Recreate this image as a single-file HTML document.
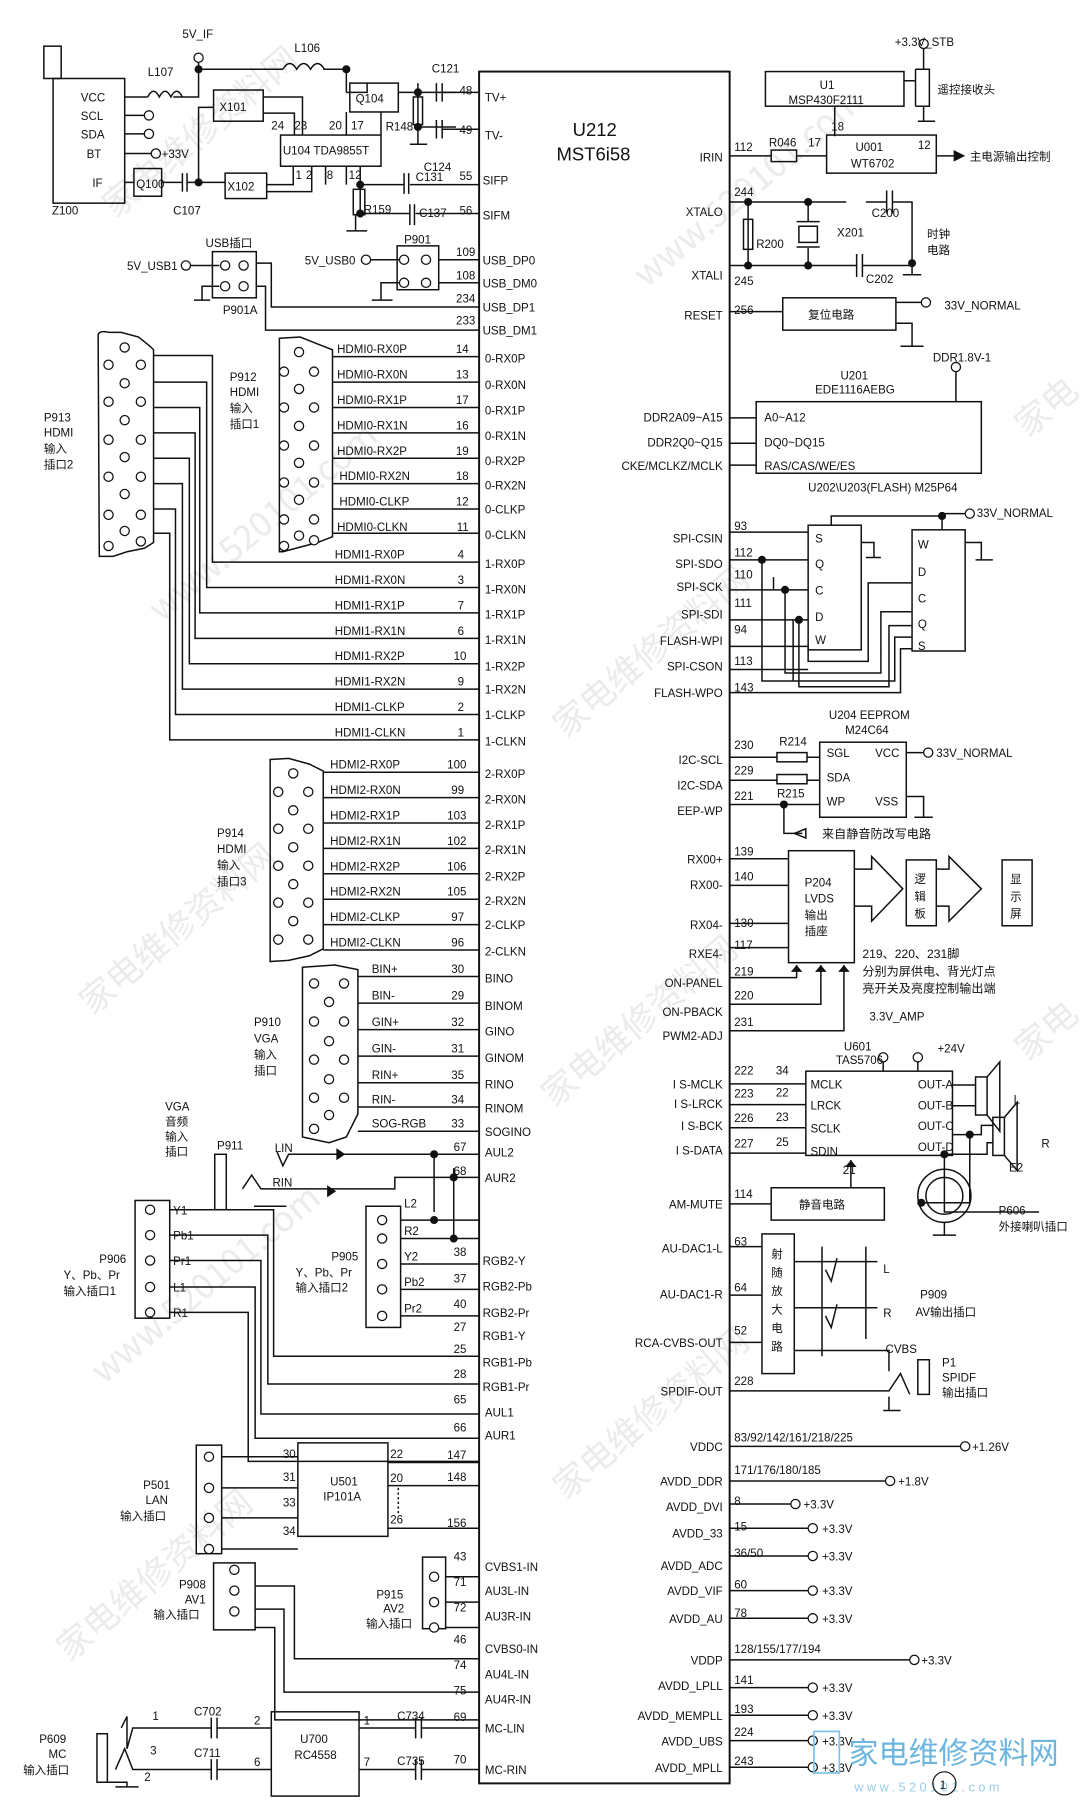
<!DOCTYPE html>
<html><head><meta charset="utf-8"><style>
html,body{margin:0;padding:0;background:#fff}
svg{display:block}
text{font-family:"Liberation Sans Narrow","Liberation Sans","Noto Sans CJK SC",sans-serif;font-size:10px;fill:#111}
.c{font-family:"Liberation Sans","Noto Sans CJK SC",sans-serif;font-size:10.5px}
.r{text-anchor:end}
.m{text-anchor:middle}
.wm{font-family:"Noto Sans CJK SC","Liberation Sans",sans-serif;font-size:30px;fill:#e6e6e6}
</style></head><body>
<svg width="1091" height="1818" viewBox="0 0 945 1575" preserveAspectRatio="none" xmlns="http://www.w3.org/2000/svg">
<g opacity="0.8">
<text class="wm" transform="translate(100,190) rotate(-40)">家电维修资料网</text>
<text class="wm" transform="translate(560,250) rotate(-40)">www.520101.com</text>
<text class="wm" transform="translate(140,540) rotate(-40)">www.520101.com</text>
<text class="wm" transform="translate(490,640) rotate(-40)">家电维修资料网</text>
<text class="wm" transform="translate(80,880) rotate(-40)">家电维修资料网</text>
<text class="wm" transform="translate(480,960) rotate(-40)">家电维修资料网</text>
<text class="wm" transform="translate(90,1200) rotate(-40)">www.520101.com</text>
<text class="wm" transform="translate(490,1300) rotate(-40)">家电维修资料网</text>
<text class="wm" transform="translate(60,1440) rotate(-40)">家电维修资料网</text>
<text class="wm" transform="translate(890,380) rotate(-40)">家电</text>
<text class="wm" transform="translate(890,920) rotate(-40)">家电</text>
</g>
<g fill="none" stroke="#111" stroke-width="1.3">
<rect x="415" y="62" width="217" height="1483" stroke-width="1.7"/>
<rect x="38" y="40" width="15" height="28"/>
<rect x="46" y="68" width="62" height="108"/>
<path d="M108,84 H128 M150,84 H172 V60 M172,60 V50"/>
<path d="M128,84 q5,-10 10,0 q5,-10 10,0 q5,-10 10,0" />
<path d="M172,60 H245 M280,60 H300 V80"/>
<path d="M245,60 q6,-10 12,0 q6,-10 12,0 q6,-10 12,0"/>
<path d="M108,100 H125 M108,116 H125 M108,133 H133 M108,158 H116"/>
<rect x="116" y="146" width="24" height="24"/><rect x="195" y="150" width="36" height="22"/><rect x="185" y="78" width="43" height="27"/>
<path d="M140,158 H158 M162,158 H195 M158,150 V166 M162,150 V166 M172,158 V93 H185"/>
<rect x="243" y="117" width="87" height="27"/>
<rect x="303" y="72" width="42" height="25"/>
<path d="M228,84 H262 V117 M228,98 H255 V117 M300,80 H318 V72 M300,97 V117 M330,97 V117 M345,80 H362 M362,72 V110 M362,80 H395 M362,110 H395 M231,160 H254 V144 M231,166 H270 V144 M282,144 V160 M300,144 V160 M312,144 V160 H350 M312,160 V185 H355 M355,160 H415 M360,185 H415"/>
<rect x="358" y="84" width="8" height="24"/>
<rect x="306" y="164" width="10" height="22"/>
<path d="M378,72 V88 M383,72 V88 M378,104 V120 M383,104 V120 M350,150 V168 M354,150 V168 M355,177 V195 M359,177 V195 M308,186 V200 M300,200 H318 M362,110 V125 M355,125 H370"/>
<path d="M383,80 H415 M383,112 H415"/>
<rect x="184" y="218" width="38" height="40"/>
<path d="M165,230 H190 M222,228 H235 V266 H415 M222,248 H230 V286 H415 M190,248 H175 V260 M168,260 H182"/>
<rect x="344" y="213" width="36" height="38"/>
<path d="M320,225 H350 M380,225 H415 M380,245 H415 M350,245 H330 V260 M322,260 H340"/>
<path d="M85,290 Q86,286 95,288 L105,288 L120,292 L130,300 L133,303 V470 L125,475 L110,478 L98,482 L86,482 Z"/>
<path d="M242,293 L260,292 L275,298 L288,303 V465 L275,470 L260,474 L245,478 L242,478 Z"/>
<path d="M288,309 H415 M288,331 H415 M288,353 H415 M288,375 H415 M288,397 H415 M288,419 H415 M288,441 H415 M288,462 H415"/>
<path d="M133,308 H184 V487 H415 M133,331 H179 V509 H415 M133,353 H173 V531 H415 M133,375 H169 V553 H415 M133,397 H164 V575 H415 M133,419 H158 V597 H415 M133,441 H152 V619 H415 M133,462 H147 V641 H415"/>
<path d="M234,658 L250,657 L268,662 L280,668 V822 L268,828 L250,832 L234,833 Z"/>
<path d="M280,669 H415 M280,691 H415 M280,713 H415 M280,735 H415 M280,757 H415 M280,779 H415 M280,801 H415 M280,823 H415"/>
<path d="M262,838 L290,836 L310,840 V965 L300,985 L285,990 L262,985 Z"/>
<path d="M310,846 H415 M310,869 H415 M310,892 H415 M310,915 H415 M310,938 H415 M310,959 H415 M310,980 H415"/>
<rect x="186" y="1000" width="10" height="48"/>
<path d="M196,1048 H205 M205,1048 H235 M220,1045 H248 M240,998 L245,1010 L250,1000 H415 M210,1030 L218,1018 L226,1030 H342 V1020 H415 M376,1000 V1050 M393,1012 V1073"/>
<path d="M292,996 l6,4 -6,4z M284,1028 l6,4 -6,4z" fill="#111"/>
<rect x="117" y="1040" width="30" height="102"/>
<path d="M147,1048 H237 V1175 H415 M147,1070 H232 V1199 H415 M147,1092 H226 V1225 H415 M147,1115 H221 V1246 H415 M147,1137 H215 V1266 H415"/>
<rect x="317" y="1045" width="30" height="105"/>
<path d="M347,1057 H415 M347,1073 H415 M347,1095 H415 M347,1117 H415 M347,1140 H415"/>
<rect x="170" y="1252" width="22" height="94"/>
<rect x="258" y="1250" width="78" height="81"/>
<path d="M192,1262 H258 M192,1289 H258 M192,1315 H258 M192,1342 H258 M336,1267 H415 M336,1287 H415 M336,1324 H415"/>
<path d="M345,1289 V1313" stroke-dasharray="2,2"/>
<rect x="185" y="1354" width="36" height="58"/>
<path d="M221,1374 H255 V1437 H415 M221,1394 H246 V1466 H415 M221,1410 H238 V1490 H415"/>
<rect x="366" y="1349" width="20" height="62"/>
<path d="M386,1366 H415 M386,1388 H415 M386,1410 H415"/>
<rect x="84" y="1502" width="9" height="42"/>
<rect x="235" y="1483" width="76" height="73"/>
<path d="M105,1497 L110,1487 M110,1487 V1515 L115,1497 H183 M188,1497 H235 M183,1488 V1506 M188,1488 V1506 M100,1533 L108,1515 L115,1533 H183 M188,1533 H235 M183,1524 V1542 M188,1524 V1542 M311,1497 H360 M365,1497 H415 M360,1488 V1506 M365,1488 V1506 M311,1533 H360 M365,1533 H415 M360,1524 V1542 M365,1524 V1542 M93,1544 H110 V1548 M100,1548 H120"/>
<rect x="663" y="62" width="120" height="30"/>
<path d="M783,70 H793 M793,60 V92 M800,38 V60 M793,60 h12 v32 h-12 M800,92 V105 M795,105 H810 M723,92 V118"/>
<rect x="716" y="117" width="95" height="33"/>
<rect x="668" y="130" width="22" height="10"/>
<path d="M632,135 H668 M690,135 H716 M811,135 H828"/>
<path d="M632,175 H733 M750,175 H768 M768,165 V185 M773,165 V185 M773,175 H790 V228 M648,175 V230 M632,230 H733 M733,230 H742 M742,220 V240 M747,220 V240 M747,230 H790 V238 M782,238 H798 M700,175 V192 M700,215 V230"/>
<rect x="644" y="190" width="8" height="26"/>
<rect x="692" y="196" width="16" height="14"/>
<path d="M690,192 H710 M690,214 H710"/>
<rect x="678" y="258" width="98" height="28"/>
<path d="M632,270 H678 M776,262 H800 M776,280 H790 V300 M780,300 H800"/>
<rect x="655" y="348" width="195" height="62"/>
<path d="M632,362 H655 M632,384 H655 M632,403 H655 M828,322 V348"/>
<rect x="700" y="455" width="46" height="108"/>
<rect x="790" y="459" width="46" height="105"/>
<path d="M632,461 H700 M632,485 H700 M632,511 H700 M632,537 H700 M632,560 H700 M632,580 H700 M632,600 H780 V562 H790 M720,455 V447 H816 M816,445 H836 M816,447 V459 M746,470 H757 V483 M750,483 H763 M836,470 H850 V485 M845,485 H860 M790,505 H752 V573 H700 V560 M790,530 H763 V583 H680 V511 M790,552 H775 V590 H660 V485 M670,511 V500 M687,537 V590 M790,542 H770 V595 H692 V537"/>
<rect x="710" y="643" width="75" height="65"/>
<rect x="673" y="652" width="26" height="8"/><rect x="673" y="671" width="26" height="8"/>
<path d="M632,656 H673 M699,656 H710 M632,676 H673 M699,676 H710 M632,697 H710 M679,697 V722 H695 M785,652 H800 M785,690 H800 V708 M792,708 H808"/>
<path d="M688,722 l10,-4 v8z"/>
<rect x="683" y="737" width="57" height="97"/>
<path d="M632,744 H683 M632,767 H683 M632,800 H683 M632,821 H683 M632,847 H690 V836 M632,870 H711 V836 M632,893 H731 V836"/>
<path d="M740,753 H755 V742 L782,770 L755,798 V785 H740"/>
<rect x="785" y="745" width="26" height="57"/>
<path d="M811,753 H822 V742 L850,770 L822,798 V785 H811"/>
<rect x="868" y="745" width="26" height="57"/>
<rect x="698" y="928" width="127" height="73"/>
<path d="M632,939 H698 M632,957 H698 M632,977 H698 M632,999 H698 M765,920 V928 M795,920 V928 M825,940 H845 M825,958 H845 M825,983 H840 V1042 H798 M825,1000 H818 V1050 H900"/>
<rect x="845" y="933" width="10" height="33"/><path d="M855,933 L866,920 V980 L855,966"/>
<rect x="860" y="968" width="10" height="33"/><path d="M870,968 L881,955 V1014 L870,1001"/>
<path d="M840,983 H850 V975 H860 M818,1000 H855 V990 H860"/>
<circle cx="818" cy="1036" r="23"/><circle cx="818" cy="1036" r="16"/>
<path d="M818,1059 V1070 M808,1070 H828"/>
<rect x="668" y="1029" width="98" height="28"/>
<path d="M632,1043 H668 M737,1029 V1005"/>
<rect x="660" y="1069" width="28" height="121"/>
<path d="M632,1080 H660 M632,1122 H660 M632,1163 H660 M688,1093 H760 M688,1133 H760 M688,1170 H770 V1188 M712,1080 V1175 M750,1080 V1160"/>
<path d="M715,1100 l5,10 5,-20 M715,1140 l5,10 5,-20"/>
<rect x="795" y="1178" width="10" height="30"/>
<path d="M632,1205 H770 L780,1190 L788,1208 M770,1210 V1222 M765,1222 H780"/>
<path d="M632,1253 H832 M632,1283 H767 M632,1303 H685 M632,1324 H700 M632,1348 H700 M632,1378 H700 M632,1402 H700 M632,1438 H788 M632,1462 H700 M632,1486 H700 M632,1508 H700 M632,1531 H700"/>
</g>
<g fill="#111">
<circle cx="172" cy="60" r="3.5"/><circle cx="300" cy="60" r="3.5"/><circle cx="172" cy="158" r="3.5"/><circle cx="362" cy="80" r="3.5"/><circle cx="362" cy="110" r="3.5"/><circle cx="312" cy="160" r="3.5"/><circle cx="312" cy="185" r="3.5"/>
<circle cx="648" cy="175" r="3.5"/><circle cx="700" cy="175" r="3.5"/><circle cx="648" cy="230" r="3.5"/><circle cx="700" cy="230" r="3.5"/><circle cx="790" cy="228" r="3.5"/>
<circle cx="816" cy="447" r="3.5"/><circle cx="660" cy="485" r="3.5"/><circle cx="680" cy="511" r="3.5"/><circle cx="692" cy="537" r="3.5"/><circle cx="679" cy="697" r="3.5"/>
<circle cx="376" cy="1000" r="3.5"/><circle cx="393" cy="1020" r="3.5"/><circle cx="376" cy="1057" r="3.5"/><circle cx="393" cy="1073" r="3.5"/>
<circle cx="840" cy="983" r="3.5"/><circle cx="818" cy="1000" r="3.5"/><circle cx="798" cy="1042" r="3.5"/>
<path d="M690,836 l-5,6 h10z M711,836 l-5,6 h10z M731,836 l-5,6 h10z M737,1005 l-5,6 h10z M836,135 l-10,-5 v10z"/>
</g>
<g fill="#fff" stroke="#111" stroke-width="1.1">
<circle cx="172" cy="50" r="4"/><circle cx="129" cy="100" r="4"/><circle cx="129" cy="116" r="4"/><circle cx="135" cy="133" r="4"/>
<circle cx="161" cy="230" r="4"/><circle cx="317" cy="225" r="4"/><circle cx="800" cy="38" r="4"/><circle cx="802" cy="262" r="4"/><circle cx="828" cy="318" r="4"/>
<circle cx="840" cy="445" r="4"/><circle cx="804" cy="652" r="4"/><circle cx="765" cy="916" r="4"/><circle cx="795" cy="916" r="4"/>
<circle cx="836" cy="1253" r="4"/><circle cx="771" cy="1283" r="4"/><circle cx="689" cy="1303" r="4"/><circle cx="704" cy="1324" r="4"/><circle cx="704" cy="1348" r="4"/><circle cx="704" cy="1378" r="4"/><circle cx="704" cy="1402" r="4"/><circle cx="792" cy="1438" r="4"/><circle cx="704" cy="1462" r="4"/><circle cx="704" cy="1486" r="4"/><circle cx="704" cy="1508" r="4"/><circle cx="704" cy="1531" r="4"/>
<circle cx="195" cy="230" r="4"/><circle cx="211" cy="230" r="4"/><circle cx="195" cy="248" r="4"/><circle cx="211" cy="248" r="4"/>
<circle cx="350" cy="225" r="4"/><circle cx="369" cy="225" r="4"/><circle cx="350" cy="245" r="4"/><circle cx="369" cy="245" r="4"/>
<circle cx="108" cy="301" r="4"/><circle cx="94" cy="316" r="4"/><circle cx="122" cy="316" r="4"/><circle cx="108" cy="332" r="4"/><circle cx="94" cy="348" r="4"/><circle cx="122" cy="348" r="4"/><circle cx="108" cy="364" r="4"/><circle cx="94" cy="381" r="4"/><circle cx="122" cy="381" r="4"/><circle cx="108" cy="396" r="4"/><circle cx="94" cy="413" r="4"/><circle cx="122" cy="413" r="4"/><circle cx="108" cy="428" r="4"/><circle cx="94" cy="446" r="4"/><circle cx="122" cy="446" r="4"/><circle cx="108" cy="460" r="4"/><circle cx="94" cy="473" r="4"/><circle cx="122" cy="469" r="4"/>
<circle cx="259" cy="305" r="4"/><circle cx="246" cy="322" r="4"/><circle cx="272" cy="322" r="4"/><circle cx="259" cy="337" r="4"/><circle cx="246" cy="353" r="4"/><circle cx="272" cy="353" r="4"/><circle cx="259" cy="369" r="4"/><circle cx="246" cy="386" r="4"/><circle cx="272" cy="386" r="4"/><circle cx="259" cy="401" r="4"/><circle cx="246" cy="418" r="4"/><circle cx="272" cy="418" r="4"/><circle cx="259" cy="433" r="4"/><circle cx="246" cy="450" r="4"/><circle cx="272" cy="450" r="4"/><circle cx="259" cy="464" r="4"/><circle cx="246" cy="473" r="4"/><circle cx="272" cy="468" r="4"/>
<circle cx="254" cy="670" r="4"/><circle cx="241" cy="686" r="4"/><circle cx="267" cy="686" r="4"/><circle cx="254" cy="702" r="4"/><circle cx="241" cy="718" r="4"/><circle cx="267" cy="718" r="4"/><circle cx="254" cy="734" r="4"/><circle cx="241" cy="750" r="4"/><circle cx="267" cy="750" r="4"/><circle cx="254" cy="766" r="4"/><circle cx="241" cy="782" r="4"/><circle cx="267" cy="782" r="4"/><circle cx="254" cy="798" r="4"/><circle cx="241" cy="814" r="4"/><circle cx="267" cy="814" r="4"/>
<circle cx="272" cy="852" r="4"/><circle cx="298" cy="852" r="4"/><circle cx="285" cy="868" r="4"/><circle cx="272" cy="885" r="4"/><circle cx="298" cy="885" r="4"/><circle cx="285" cy="902" r="4"/><circle cx="272" cy="918" r="4"/><circle cx="298" cy="918" r="4"/><circle cx="285" cy="935" r="4"/><circle cx="272" cy="951" r="4"/><circle cx="298" cy="951" r="4"/><circle cx="285" cy="966" r="4"/><circle cx="272" cy="978" r="4"/>
<circle cx="130" cy="1048" r="4"/><circle cx="130" cy="1070" r="4"/><circle cx="130" cy="1092" r="4"/><circle cx="130" cy="1115" r="4"/><circle cx="130" cy="1137" r="4"/>
<circle cx="331" cy="1057" r="4"/><circle cx="331" cy="1073" r="4"/><circle cx="331" cy="1095" r="4"/><circle cx="331" cy="1117" r="4"/><circle cx="331" cy="1140" r="4"/>
<circle cx="181" cy="1262" r="4"/><circle cx="181" cy="1289" r="4"/><circle cx="181" cy="1315" r="4"/><circle cx="181" cy="1342" r="4"/>
<circle cx="203" cy="1360" r="4"/><circle cx="203" cy="1378" r="4"/><circle cx="203" cy="1396" r="4"/>
<circle cx="376" cy="1366" r="4"/><circle cx="376" cy="1388" r="4"/><circle cx="376" cy="1410" r="4"/>
</g>
<text x="158" y="33">5V_IF</text><text x="128" y="66">L107</text><text x="255" y="45">L106</text><text x="374" y="63">C121</text>
<text x="70" y="88">VCC</text><text x="70" y="104">SCL</text><text x="70" y="120">SDA</text><text x="75" y="137">BT</text><text x="140" y="137">+33V</text><text x="80" y="162">IF</text>
<text x="45" y="186">Z100</text><text x="150" y="186">C107</text><text x="118" y="163">Q100</text><text x="197" y="165">X102</text><text x="190" y="96">X101</text><text x="308" y="89">Q104</text>
<text x="245" y="134">U104  TDA9855T</text><text x="235" y="112">24</text><text x="255" y="112">23</text><text x="285" y="112">20</text><text x="304" y="112">17</text><text x="334" y="113">R148</text>
<text x="256" y="155">1</text><text x="265" y="155">2</text><text x="283" y="155">8</text><text x="302" y="155">12</text><text x="367" y="148">C124</text><text x="360" y="157">C131</text><text x="363" y="188">C137</text><text x="315" y="185">R159</text>
<text x="398" y="82">48</text><text x="398" y="116">49</text><text x="398" y="156">55</text><text x="398" y="186">56</text>
<text x="178" y="214">USB插口</text><text x="110" y="234">5V_USB1</text><text x="193" y="272">P901A</text><text x="350" y="211">P901</text><text x="264" y="229">5V_USB0</text>
<text x="395" y="222">109</text><text x="395" y="242">108</text><text x="395" y="262">234</text><text x="395" y="281">233</text>
<text x="38" y="365">P913</text><text x="38" y="378">HDMI</text><text x="38" y="392">输入</text><text x="38" y="406">插口2</text>
<text x="199" y="330">P912</text><text x="199" y="343">HDMI</text><text x="199" y="357">输入</text><text x="199" y="371">插口1</text>
<text x="292" y="306">HDMI0-RX0P</text><text x="292" y="328">HDMI0-RX0N</text><text x="292" y="350">HDMI0-RX1P</text><text x="292" y="372">HDMI0-RX1N</text><text x="292" y="394">HDMI0-RX2P</text><text x="294" y="416">HDMI0-RX2N</text><text x="294" y="438">HDMI0-CLKP</text><text x="292" y="460">HDMI0-CLKN</text>
<text x="290" y="484">HDMI1-RX0P</text><text x="290" y="506">HDMI1-RX0N</text><text x="290" y="528">HDMI1-RX1P</text><text x="290" y="550">HDMI1-RX1N</text><text x="290" y="572">HDMI1-RX2P</text><text x="290" y="594">HDMI1-RX2N</text><text x="290" y="616">HDMI1-CLKP</text><text x="290" y="638">HDMI1-CLKN</text>
<text x="286" y="666">HDMI2-RX0P</text><text x="286" y="688">HDMI2-RX0N</text><text x="286" y="710">HDMI2-RX1P</text><text x="286" y="732">HDMI2-RX1N</text><text x="286" y="754">HDMI2-RX2P</text><text x="286" y="776">HDMI2-RX2N</text><text x="286" y="798">HDMI2-CLKP</text><text x="286" y="820">HDMI2-CLKN</text>
<text x="188" y="725">P914</text><text x="188" y="739">HDMI</text><text x="188" y="753">输入</text><text x="188" y="767">插口3</text>
<text x="322" y="843">BIN+</text><text x="322" y="866">BIN-</text><text x="322" y="889">GIN+</text><text x="322" y="912">GIN-</text><text x="322" y="935">RIN+</text><text x="322" y="956">RIN-</text><text x="322" y="977">SOG-RGB</text>
<text x="220" y="889">P910</text><text x="220" y="903">VGA</text><text x="220" y="917">输入</text><text x="220" y="931">插口</text>
<g>
<text x="406" y="306" class="r">14</text><text x="406" y="328" class="r">13</text><text x="406" y="350" class="r">17</text><text x="406" y="372" class="r">16</text><text x="406" y="394" class="r">19</text><text x="406" y="416" class="r">18</text><text x="406" y="438" class="r">12</text><text x="406" y="460" class="r">11</text>
<text x="402" y="484" class="r">4</text><text x="402" y="506" class="r">3</text><text x="402" y="528" class="r">7</text><text x="402" y="550" class="r">6</text><text x="404" y="572" class="r">10</text><text x="402" y="594" class="r">9</text><text x="402" y="616" class="r">2</text><text x="402" y="638" class="r">1</text>
<text x="404" y="666" class="r">100</text><text x="402" y="688" class="r">99</text><text x="404" y="710" class="r">103</text><text x="404" y="732" class="r">102</text><text x="404" y="754" class="r">106</text><text x="404" y="776" class="r">105</text><text x="402" y="798" class="r">97</text><text x="402" y="820" class="r">96</text>
<text x="402" y="843" class="r">30</text><text x="402" y="866" class="r">29</text><text x="402" y="889" class="r">32</text><text x="402" y="912" class="r">31</text><text x="402" y="935" class="r">35</text><text x="402" y="956" class="r">34</text><text x="402" y="977" class="r">33</text>
<text x="404" y="997" class="r">67</text><text x="404" y="1018" class="r">68</text><text x="404" y="1088" class="r">38</text><text x="404" y="1111" class="r">37</text><text x="404" y="1133" class="r">40</text><text x="404" y="1153" class="r">27</text><text x="404" y="1172" class="r">25</text><text x="404" y="1194" class="r">28</text><text x="404" y="1216" class="r">65</text><text x="404" y="1240" class="r">66</text>
<text x="404" y="1264" class="r">147</text><text x="404" y="1283" class="r">148</text><text x="404" y="1323" class="r">156</text><text x="404" y="1352" class="r">43</text><text x="404" y="1374" class="r">71</text><text x="404" y="1396" class="r">72</text><text x="404" y="1424" class="r">46</text><text x="404" y="1446" class="r">74</text><text x="404" y="1468" class="r">75</text><text x="404" y="1491" class="r">69</text><text x="404" y="1528" class="r">70</text>
</g>
<text x="420" y="88">TV+</text><text x="420" y="121">TV-</text><text x="418" y="160">SIFP</text><text x="418" y="190">SIFM</text>
<text x="418" y="229">USB_DP0</text><text x="418" y="249">USB_DM0</text><text x="418" y="270">USB_DP1</text><text x="418" y="290">USB_DM1</text>
<text x="420" y="314">0-RX0P</text><text x="420" y="337">0-RX0N</text><text x="420" y="359">0-RX1P</text><text x="420" y="381">0-RX1N</text><text x="420" y="403">0-RX2P</text><text x="420" y="424">0-RX2N</text><text x="420" y="445">0-CLKP</text><text x="420" y="467">0-CLKN</text>
<text x="420" y="492">1-RX0P</text><text x="420" y="514">1-RX0N</text><text x="420" y="536">1-RX1P</text><text x="420" y="558">1-RX1N</text><text x="420" y="581">1-RX2P</text><text x="420" y="601">1-RX2N</text><text x="420" y="623">1-CLKP</text><text x="420" y="646">1-CLKN</text>
<text x="420" y="674">2-RX0P</text><text x="420" y="696">2-RX0N</text><text x="420" y="718">2-RX1P</text><text x="420" y="740">2-RX1N</text><text x="420" y="763">2-RX2P</text><text x="420" y="784">2-RX2N</text><text x="420" y="805">2-CLKP</text><text x="420" y="828">2-CLKN</text>
<text x="420" y="851">BINO</text><text x="420" y="875">BINOM</text><text x="420" y="897">GINO</text><text x="420" y="920">GINOM</text><text x="420" y="943">RINO</text><text x="420" y="964">RINOM</text><text x="420" y="984">SOGINO</text>
<text x="420" y="1002">AUL2</text><text x="420" y="1024">AUR2</text><text x="418" y="1096">RGB2-Y</text><text x="418" y="1118">RGB2-Pb</text><text x="418" y="1141">RGB2-Pr</text><text x="418" y="1161">RGB1-Y</text><text x="418" y="1184">RGB1-Pb</text><text x="418" y="1205">RGB1-Pr</text><text x="420" y="1227">AUL1</text><text x="420" y="1247">AUR1</text>
<text x="420" y="1361">CVBS1-IN</text><text x="420" y="1382">AU3L-IN</text><text x="420" y="1404">AU3R-IN</text><text x="420" y="1432">CVBS0-IN</text><text x="420" y="1454">AU4L-IN</text><text x="420" y="1476">AU4R-IN</text><text x="420" y="1501">MC-LIN</text><text x="420" y="1537">MC-RIN</text>
<text x="143" y="962">VGA</text><text x="143" y="975">音频</text><text x="143" y="988">输入</text><text x="143" y="1001">插口</text><text x="188" y="996">P911</text><text x="238" y="998">LIN</text><text x="236" y="1028">RIN</text>
<text x="150" y="1052">Y1</text><text x="150" y="1074">Pb1</text><text x="150" y="1096">Pr1</text><text x="150" y="1119">L1</text><text x="150" y="1141">R1</text>
<text x="86" y="1094">P906</text><text x="55" y="1108">Y、Pb、Pr</text><text x="55" y="1122">输入插口1</text>
<text x="350" y="1046">L2</text><text x="350" y="1070">R2</text><text x="350" y="1092">Y2</text><text x="350" y="1114">Pb2</text><text x="350" y="1137">Pr2</text>
<text x="287" y="1092">P905</text><text x="256" y="1106">Y、Pb、Pr</text><text x="256" y="1119">输入插口2</text>
<text x="124" y="1290">P501</text><text x="126" y="1303">LAN</text><text x="104" y="1317">输入插口</text><text x="286" y="1287">U501</text><text x="280" y="1300">IP101A</text>
<text x="245" y="1263">30</text><text x="245" y="1283">31</text><text x="245" y="1305">33</text><text x="245" y="1330">34</text><text x="338" y="1263">22</text><text x="338" y="1284">20</text><text x="338" y="1320">26</text>
<text x="155" y="1376">P908</text><text x="160" y="1389">AV1</text><text x="133" y="1402">输入插口</text>
<text x="326" y="1385">P915</text><text x="332" y="1397">AV2</text><text x="317" y="1410">输入插口</text>
<text x="132" y="1490">1</text><text x="168" y="1486">C702</text><text x="220" y="1494">2</text><text x="168" y="1522">C711</text><text x="220" y="1530">6</text><text x="130" y="1520">3</text><text x="125" y="1543">2</text>
<text x="260" y="1510">U700</text><text x="255" y="1524">RC4558</text><text x="315" y="1494">1</text><text x="315" y="1530">7</text><text x="344" y="1490">C734</text><text x="344" y="1529">C735</text>
<text x="34" y="1510">P609</text><text x="42" y="1523">MC</text><text x="20" y="1537">输入插口</text>
<text x="496" y="118" style="font-size:16px">U212</text><text x="482" y="139" style="font-size:16px">MST6i58</text>
<g>
<text x="626" y="140" class="r">IRIN</text><text x="626" y="187" class="r">XTALO</text><text x="626" y="242" class="r">XTALI</text><text x="626" y="277" class="r">RESET</text>
<text x="626" y="365" class="r">DDR2A09~A15</text><text x="626" y="387" class="r">DDR2Q0~Q15</text><text x="626" y="407" class="r">CKE/MCLKZ/MCLK</text>
<text x="626" y="470" class="r">SPI-CSIN</text><text x="626" y="492" class="r">SPI-SDO</text><text x="626" y="512" class="r">SPI-SCK</text><text x="626" y="536" class="r">SPI-SDI</text><text x="626" y="559" class="r">FLASH-WPI</text><text x="626" y="581" class="r">SPI-CSON</text><text x="626" y="604" class="r">FLASH-WPO</text>
<text x="626" y="662" class="r">I2C-SCL</text><text x="626" y="684" class="r">I2C-SDA</text><text x="626" y="706" class="r">EEP-WP</text>
<text x="626" y="748" class="r">RX00+</text><text x="626" y="770" class="r">RX00-</text><text x="626" y="805" class="r">RX04-</text><text x="626" y="830" class="r">RXE4-</text><text x="626" y="855" class="r">ON-PANEL</text><text x="626" y="880" class="r">ON-PBACK</text><text x="626" y="901" class="r">PWM2-ADJ</text>
<text x="626" y="943" class="r">I S-MCLK</text><text x="626" y="960" class="r">I S-LRCK</text><text x="626" y="979" class="r">I S-BCK</text><text x="626" y="1000" class="r">I S-DATA</text><text x="626" y="1047" class="r">AM-MUTE</text>
<text x="626" y="1085" class="r">AU-DAC1-L</text><text x="626" y="1125" class="r">AU-DAC1-R</text><text x="626" y="1167" class="r">RCA-CVBS-OUT</text><text x="626" y="1209" class="r">SPDIF-OUT</text>
<text x="626" y="1257" class="r">VDDC</text><text x="626" y="1287" class="r">AVDD_DDR</text><text x="626" y="1309" class="r">AVDD_DVI</text><text x="626" y="1332" class="r">AVDD_33</text><text x="626" y="1360" class="r">AVDD_ADC</text><text x="626" y="1382" class="r">AVDD_VIF</text><text x="626" y="1406" class="r">AVDD_AU</text>
<text x="626" y="1442" class="r">VDDP</text><text x="626" y="1464" class="r">AVDD_LPLL</text><text x="626" y="1490" class="r">AVDD_MEMPLL</text><text x="626" y="1512" class="r">AVDD_UBS</text><text x="626" y="1535" class="r">AVDD_MPLL</text>
</g>
<text x="636" y="131">112</text><text x="636" y="170">244</text><text x="636" y="247">245</text><text x="636" y="272">256</text>
<text x="636" y="459">93</text><text x="636" y="482">112</text><text x="636" y="501">110</text><text x="636" y="526">111</text><text x="636" y="549">94</text><text x="636" y="576">113</text><text x="636" y="599">143</text>
<text x="636" y="649">230</text><text x="636" y="671">229</text><text x="636" y="693">221</text>
<text x="636" y="741">139</text><text x="636" y="763">140</text><text x="636" y="803">130</text><text x="636" y="822">117</text><text x="636" y="845">219</text><text x="636" y="866">220</text><text x="636" y="889">231</text>
<text x="636" y="931">222</text><text x="636" y="951">223</text><text x="636" y="972">226</text><text x="636" y="994">227</text><text x="672" y="931">34</text><text x="672" y="950">22</text><text x="672" y="971">23</text><text x="672" y="993">25</text>
<text x="636" y="1038">114</text><text x="636" y="1079">63</text><text x="636" y="1119">64</text><text x="636" y="1156">52</text><text x="636" y="1200">228</text>
<text x="636" y="1249">83/92/142/161/218/225</text><text x="636" y="1277">171/176/180/185</text><text x="636" y="1304">8</text><text x="636" y="1326">15</text><text x="636" y="1349">36/50</text><text x="636" y="1376">60</text><text x="636" y="1401">78</text><text x="636" y="1432">128/155/177/194</text><text x="636" y="1459">141</text><text x="636" y="1484">193</text><text x="636" y="1504">224</text><text x="636" y="1529">243</text>
<text x="842" y="1257">+1.26V</text><text x="778" y="1287">+1.8V</text><text x="696" y="1307">+3.3V</text><text x="712" y="1328">+3.3V</text><text x="712" y="1352">+3.3V</text><text x="712" y="1382">+3.3V</text><text x="712" y="1406">+3.3V</text><text x="798" y="1442">+3.3V</text><text x="712" y="1466">+3.3V</text><text x="712" y="1490">+3.3V</text><text x="712" y="1512">+3.3V</text><text x="712" y="1535">+3.3V</text>
<text x="775" y="40">+3.3V_STB</text><text x="710" y="77">U1</text><text x="683" y="90">MSP430F2111</text><text x="812" y="81">遥控接收头</text><text x="720" y="113">18</text>
<text x="666" y="127">R046</text><text x="700" y="127">17</text><text x="741" y="131">U001</text><text x="737" y="145">WT6702</text><text x="795" y="129">12</text><text x="840" y="139">主电源输出控制</text>
<text x="755" y="188">C200</text><text x="725" y="205">X201</text><text x="655" y="215">R200</text><text x="750" y="245">C202</text><text x="803" y="206">时钟</text><text x="803" y="220">电路</text>
<text x="700" y="276">复位电路</text><text x="818" y="268">33V_NORMAL</text>
<text x="808" y="313">DDR1.8V-1</text><text x="728" y="329">U201</text><text x="706" y="341">EDE1116AEBG</text>
<text x="662" y="365">A0~A12</text><text x="662" y="387">DQ0~DQ15</text><text x="662" y="407">RAS/CAS/WE/ES</text><text x="700" y="426">U202\U203(FLASH) M25P64</text>
<text x="706" y="470">S</text><text x="706" y="492">Q</text><text x="706" y="515">C</text><text x="706" y="538">D</text><text x="706" y="558">W</text>
<text x="795" y="475">W</text><text x="795" y="499">D</text><text x="795" y="522">C</text><text x="795" y="544">Q</text><text x="795" y="563">S</text><text x="846" y="448">33V_NORMAL</text>
<text x="718" y="623">U204 EEPROM</text><text x="732" y="636">M24C64</text><text x="675" y="646">R214</text><text x="673" y="691">R215</text>
<text x="716" y="656">SGL</text><text x="716" y="677">SDA</text><text x="716" y="698">WP</text><text x="758" y="656">VCC</text><text x="758" y="698">VSS</text><text x="811" y="656">33V_NORMAL</text>
<text x="712" y="726" class="c">来自静音防改写电路</text>
<text x="697" y="768">P204</text><text x="697" y="782">LVDS</text><text x="697" y="796">输出</text><text x="697" y="810">插座</text>
<text x="792" y="765">逻</text><text x="792" y="780">辑</text><text x="792" y="795">板</text><text x="875" y="765">显</text><text x="875" y="780">示</text><text x="875" y="795">屏</text>
<text x="747" y="830" class="c">219、220、231脚</text><text x="747" y="845" class="c">分别为屏供电、背光灯点</text><text x="747" y="860" class="c">亮开关及亮度控制输出端</text>
<text x="753" y="884">3.3V_AMP</text><text x="812" y="912">+24V</text><text x="731" y="910">U601</text><text x="724" y="922">TAS5706</text>
<text x="702" y="943">MCLK</text><text x="702" y="961">LRCK</text><text x="702" y="981">SCLK</text><text x="702" y="1001">SDIN</text><text x="795" y="943">OUT-A</text><text x="795" y="961">OUT-B</text><text x="795" y="979">OUT-C</text><text x="795" y="997">OUT-D</text>
<text x="878" y="956">L</text><text x="902" y="994">R</text><text x="874" y="1015">E2</text><text x="730" y="1017">21</text>
<text x="692" y="1047">静音电路</text><text x="865" y="1052">P606</text><text x="865" y="1066">外接喇叭插口</text>
<text x="668" y="1090">射</text><text x="668" y="1106">随</text><text x="668" y="1122">放</text><text x="668" y="1138">大</text><text x="668" y="1154">电</text><text x="668" y="1170">路</text>
<text x="765" y="1103">L</text><text x="765" y="1141">R</text><text x="767" y="1172">CVBS</text><text x="797" y="1125">P909</text><text x="793" y="1140">AV输出插口</text>
<text x="816" y="1184">P1</text><text x="816" y="1197">SPIDF</text><text x="816" y="1210">输出插口</text>
<rect x="705" y="1500" width="22" height="36" fill="none" stroke="#7fc4e8" stroke-width="1.5"/>
<text x="735" y="1528" style="font-size:26px;fill:#6db5de;font-family:'Noto Sans CJK SC',sans-serif">家电维修资料网</text>
<text x="740" y="1552" style="font-size:11px;fill:#9ccbe6;letter-spacing:3px">www.520101.com</text>
<circle cx="818" cy="1545" r="10" fill="none" stroke="#111"/><text x="814" y="1550">1</text>
</svg>
</body></html>
